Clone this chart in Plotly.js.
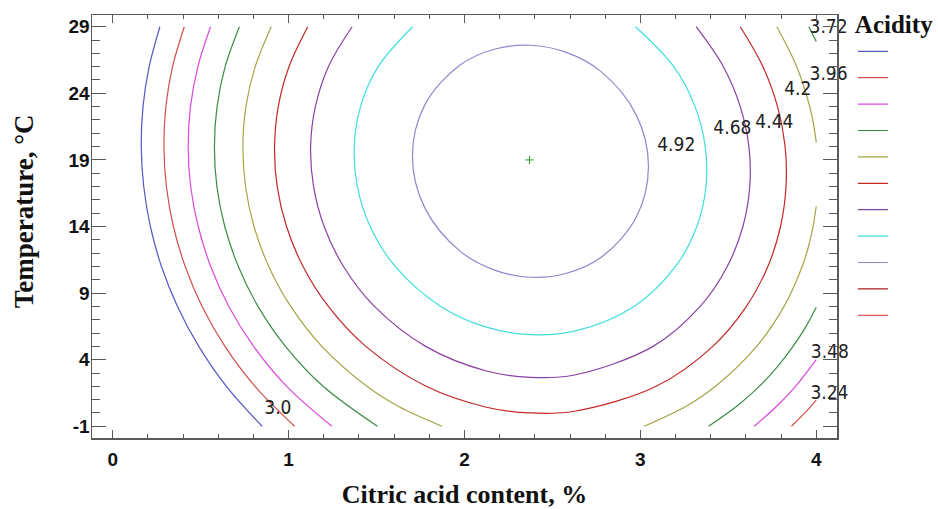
<!DOCTYPE html>
<html>
<head>
<meta charset="utf-8">
<script src="https://cdn.plot.ly/plotly-3.0.1.min.js"></script>
<style>html,body{margin:0;padding:0;background:#fff;}#chart{width:938px;height:509px;}</style>
</head>
<body>
<div id="chart"></div>
<script>
// Contour levels (Acidity) and colours in legend order
var levels = [3.0, 3.24, 3.48, 3.72, 3.96, 4.2, 4.44, 4.68, 4.92, 5.16, 5.4];
var levelColors = ['#5656c4', '#d24e4e', '#dc48dc', '#3a8c44', '#a4a446', '#c42626', '#8a40a2', '#3fdede', '#8e88cc', '#a81c1c', '#d85e5e'];

// Contour lines (null separates pieces cut by the frame)
var c300x = [0.268, 0.207, 0.172, 0.162, 0.176, 0.214, 0.277, 0.368, 0.489, 0.646, 0.849];
var c300y = [29, 26, 23, 20, 17, 14, 11, 8, 5, 2, -1];

var c324x = [0.407, 0.340, 0.302, 0.291, 0.305, 0.345, 0.412, 0.508, 0.638, 0.809, 1.034, null, 3.859, 3.935, 4.0];
var c324y = [29, 26, 23, 20, 17, 14, 11, 8, 5, 2, -1, null, -1, 0, 0.97];

var c348x = [0.556, 0.484, 0.442, 0.429, 0.443, 0.486, 0.557, 0.660, 0.801, 0.989, 1.246, null, 3.647, 3.775, 3.882, 4.0];
var c348y = [29, 26, 23, 20, 17, 14, 11, 8, 5, 2, -1, null, -1, 0.5, 2, 4.01];

var c372x = [0.720, 0.639, 0.593, 0.578, 0.592, 0.637, 0.714, 0.826, 0.982, 1.196, 1.505, null, 3.388, 3.548, 3.676, 3.781, 3.868, 3.942, 4.0, null, 3.958, 3.977, 4.0];
var c372y = [29, 26, 23, 20, 17, 14, 11, 8, 5, 2, -1, null, -1, 0.5, 2, 3.5, 5, 6.5, 7.93, null, 29, 28.5, 27.89];

var c396x = [0.901, 0.810, 0.757, 0.740, 0.755, 0.803, 0.887, 1.012, 1.189, 1.445, 1.623, 1.872, null, 3.022, 3.260, 3.427, 3.661, 3.817, 3.920, 3.956, 3.982, 4.0, null, 4.0, 3.987, 3.963, 3.889, 3.776];
var c396y = [29, 26, 23, 20, 17, 14, 11, 8, 5, 2, 0.5, -1, null, -1, 0.5, 2, 5, 8, 11, 12.5, 14, 15.52, null, 20.31, 21.5, 23, 26, 29];

var c420x = [1.109, 1.002, 0.941, 0.920, 0.935, 0.988, 1.082, 1.226, 1.439, 1.782, 2.125, 2.375, 2.625, 3.090, 3.412, 3.603, 3.725, 3.797, 3.828, 3.823, 3.780, 3.697, 3.568];
var c420y = [29, 26, 23, 20, 17, 14, 11, 8, 5, 2, 0.43, 0.0, 0.13, 2, 5, 8, 11, 14, 17, 20, 23, 26, 29];

var c444x = [1.361, 1.226, 1.152, 1.125, 1.142, 1.202, 1.312, 1.488, 1.779, 2.125, 2.375, 2.625, 3.072, 3.340, 3.494, 3.583, 3.622, 3.617, 3.568, 3.472, 3.317];
var c444y = [29, 26, 23, 20, 17, 14, 11, 8, 5, 3.15, 2.67, 2.85, 5, 8, 11, 14, 17, 20, 23, 26, 29];

var c468x = [1.705, 1.509, 1.409, 1.373, 1.391, 1.464, 1.606, 1.865, 2.125, 2.375, 2.625, 2.964, 3.200, 3.321, 3.373, 3.369, 3.311, 3.190, 2.972];
var c468y = [29, 26, 23, 20, 17, 14, 11, 8, 6.44, 5.88, 6.14, 8, 11, 14, 17, 20, 23, 26, 29];

var c492x = [1.704, 1.775, 1.975, 2.175, 2.375, 2.575, 2.775, 2.975, 3.046, 2.975, 2.775, 2.575, 2.375, 2.175, 1.975, 1.775, 1.704];
var c492y = [19.3, 23.15, 26.13, 27.33, 27.61, 27.09, 25.65, 22.42, 18.5, 14.65, 11.67, 10.47, 10.19, 10.71, 12.15, 15.38, 19.3];

// Levels 5.16 and 5.40 appear only in the legend (no line inside the plot)
var c516x = [null], c516y = [null];
var c540x = [null], c540y = [null];

// Contour value labels
var labelText = ['3.0', '3.24', '3.48', '3.72', '3.96', '4.2', '4.44', '4.68', '4.92'];
var labelX = [0.939, 4.075, 4.077, 4.07, 4.07, 3.895, 3.762, 3.523, 3.204];
var labelY = [0.28, 1.44, 4.48, 28.89, 25.33, 24.2, 21.76, 21.28, 20.0];

// Optimum point
var optX = [2.37];
var optY = [19.0];

// Axis ticks
var xTicks = [0, 1, 2, 3, 4];
var yTicks = [-1, 4, 9, 14, 19, 24, 29];

var lineX = [c300x, c324x, c348x, c372x, c396x, c420x, c444x, c468x, c492x, c516x, c540x];
var lineY = [c300y, c324y, c348y, c372y, c396y, c420y, c444y, c468y, c492y, c516y, c540y];

var traces = [];
for (var i = 0; i < levels.length; i++) {
  traces.push({
    type: 'scatter', mode: 'lines',
    x: lineX[i], y: lineY[i],
    name: '',
    connectgaps: false,
    line: {color: levelColors[i], width: 1.2, shape: 'spline', smoothing: 1},
    hoverinfo: 'skip'
  });
}
traces.push({
  type: 'scatter', mode: 'text',
  x: labelX, y: labelY, text: labelText,
  textposition: 'middle center',
  cliponaxis: false,
  textfont: {family: "'Liberation Sans Narrow', 'DejaVu Sans Condensed', 'Arial Narrow', 'Liberation Sans', sans-serif", size: 19, color: '#222'},
  showlegend: false, hoverinfo: 'skip'
});
traces.push({
  type: 'scatter', mode: 'markers',
  x: optX, y: optY,
  marker: {symbol: 'cross-thin', size: 6, color: '#2a9a2a', line: {color: '#2a9a2a', width: 1}},
  showlegend: false, hoverinfo: 'skip'
});

var tickFont = {family: "'Liberation Sans', Arial, sans-serif", size: 19, color: '#111', weight: 'bold'};
var serif = "'Liberation Serif', 'Times New Roman', serif";
var frameColor = '#5a5a5a';

var layout = {
  width: 938, height: 509,
  margin: {l: 92, r: 101, t: 15, b: 71, pad: 0, autoexpand: false},
  paper_bgcolor: '#fff', plot_bgcolor: '#fff',
  showlegend: true,
  xaxis: {
    range: [-0.118, 4.118], automargin: false,
    tickmode: 'array', tickvals: xTicks, ticktext: xTicks.map(String),
    ticks: 'inside', ticklen: 8, tickwidth: 1, tickcolor: frameColor,
    minor: {tickmode: 'linear', tick0: 0, dtick: 0.2, ticks: 'inside', ticklen: 4, tickcolor: frameColor, tickwidth: 1},
    showline: true, linecolor: frameColor, linewidth: 1.5, mirror: 'allticks',
    showgrid: false, zeroline: false,
    tickfont: tickFont, ticklabelstandoff: 4,
    title: {text: 'Citric acid content, %', font: {family: serif, size: 26, color: '#111', weight: 'bold'}, standoff: 15}
  },
  yaxis: {
    range: [-1.88, 29.88], automargin: false,
    tickmode: 'array', tickvals: yTicks, ticktext: yTicks.map(String),
    ticks: 'inside', ticklen: 14, tickwidth: 1, tickcolor: frameColor,
    minor: {tickmode: 'linear', tick0: -1, dtick: 1, ticks: 'inside', ticklen: 8, tickcolor: frameColor, tickwidth: 1},
    showline: true, linecolor: frameColor, linewidth: 1.5, mirror: 'allticks',
    showgrid: false, zeroline: false,
    tickfont: tickFont, ticklabelstandoff: -3
  },
  annotations: [{
    text: 'Temperature, °C', textangle: -90,
    xref: 'paper', yref: 'paper', x: -0.0913, y: 0.536,
    xanchor: 'center', yanchor: 'middle', showarrow: false,
    font: {family: serif, size: 27, color: '#111', weight: 'bold'}
  }],
  legend: {
    x: 1.0213, xanchor: 'left', y: 1.034, yanchor: 'top',
    maxheight: 500,
    bgcolor: 'rgba(0,0,0,0)', borderwidth: 0,
    font: {family: "'Liberation Sans', Arial, sans-serif", size: 18, color: '#111'},
    title: {text: 'Acidity', font: {family: serif, size: 25, color: '#111', weight: 'bold'}},
    tracegroupgap: 0
  }
};

Plotly.newPlot('chart', traces, layout, {displayModeBar: false, staticPlot: true});
</script>
</body>
</html>
